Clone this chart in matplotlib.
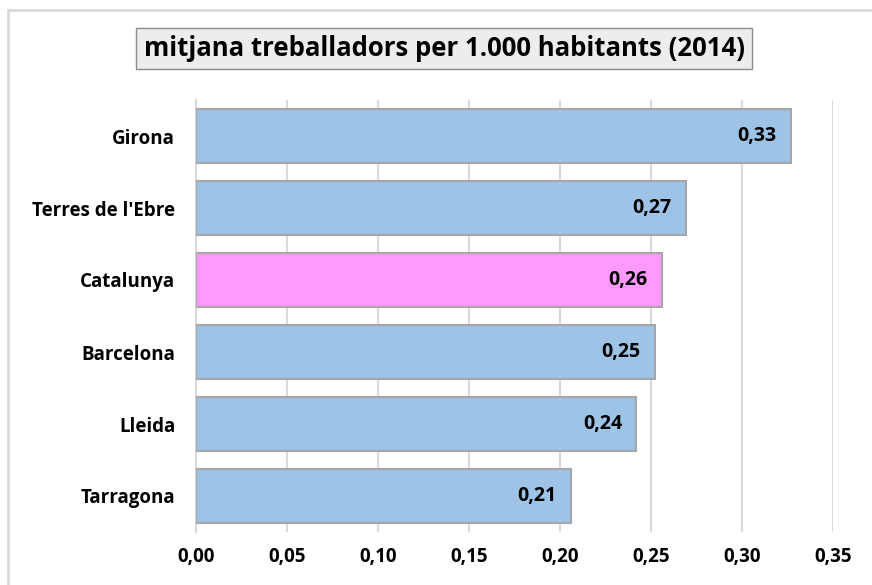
import matplotlib.pyplot as plt
from matplotlib.patches import Rectangle

# dades
categories = ["Girona", "Terres de l'Ebre", "Catalunya", "Barcelona", "Lleida", "Tarragona"]
values = [0.327, 0.269, 0.256, 0.252, 0.242, 0.206]
labels = ["0,33", "0,27", "0,26", "0,25", "0,24", "0,21"]
colors = ["#9DC3E6", "#9DC3E6", "#FF99FF", "#9DC3E6", "#9DC3E6", "#9DC3E6"]
xticks = [0.00, 0.05, 0.10, 0.15, 0.20, 0.25, 0.30, 0.35]
xticklabels = ["0,00", "0,05", "0,10", "0,15", "0,20", "0,25", "0,30", "0,35"]

plt.rcParams['font.family'] = ['Open Sans', 'DejaVu Sans']

fig = plt.figure(figsize=(8.72, 5.85), dpi=100)
ax = fig.add_axes([196 / 872, 1 - 532 / 585, 637 / 872, 432 / 585])

ypos = list(range(len(categories)))[::-1]
ax.barh(ypos, values, height=0.75, color=colors, edgecolor="#A6A6A6", linewidth=1.5, zorder=3)

for y, v, lab in zip(ypos, values, labels):
    ax.text(v - 0.008, y, lab, ha="right", va="center", fontsize=14, fontweight="bold", zorder=4)

ax.set_xlim(0, 0.35)
ax.set_ylim(-0.5, 5.5)
ax.set_xticks(xticks)
ax.set_xticklabels(xticklabels, fontsize=13.5, fontweight="bold")
ax.set_yticks(ypos)
ax.set_yticklabels(categories, fontsize=13.5, fontweight="bold")
ax.tick_params(axis="y", length=0, pad=15)
ax.tick_params(axis="x", length=0, pad=11)

ax.grid(axis="x", color="#D9D9D9", linewidth=1.5, zorder=0)
for s in ["top", "right", "bottom"]:
    ax.spines[s].set_visible(False)
ax.spines["left"].set_color("#D9D9D9")
ax.spines["left"].set_linewidth(1.5)

# titol amb requadre
fig.text(444 / 872, 1 - 48.5 / 585, "mitjana treballadors per 1.000 habitants (2014)",
         ha="center", va="center", fontsize=18.5, fontweight="bold",
         bbox=dict(boxstyle="square,pad=0.28", facecolor="#EDEDED", edgecolor="#8C8C8C", linewidth=1))

# marc exterior
fig.patches.append(Rectangle((8 / 872, -0.1), 1.1, 1.1 - 10 / 585, transform=fig.transFigure,
                             fill=False, edgecolor="#D9D9D9", linewidth=2, clip_on=False))

plt.savefig("out.png", dpi=100)
